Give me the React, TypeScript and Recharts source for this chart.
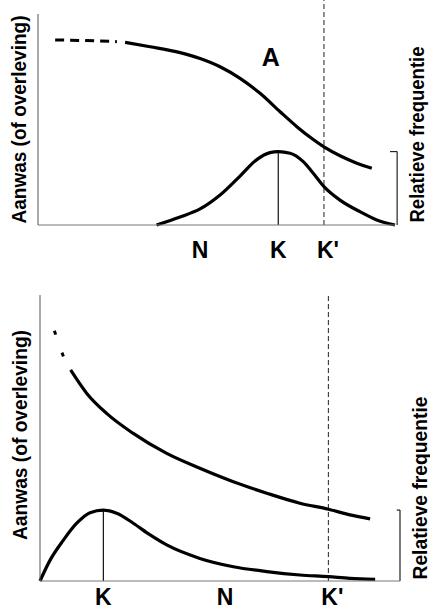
import React from 'react';
import { LineChart, Line, XAxis, YAxis, ReferenceLine, ReferenceDot } from 'recharts';

// bovenste figuur
const topDashX = [4.8, 13.5, 22.1];
const topDashY = [87.7, 87.4, 86.9];
const topAanwasX = [24.4, 31.4, 39.8, 45.4, 51.0, 56.6, 62.2, 67.8, 72.5, 77.1, 80.1, 84.6, 89.3, 93.5];
const topAanwasY = [86.6, 84.5, 81.7, 78.9, 75.0, 69.5, 62.4, 53.7, 46.6, 40.5, 37.0, 32.8, 29.3, 26.9];
const topFreqX = [33.2, 39.8, 45.4, 51.0, 56.6, 61.3, 65.0, 67.3, 70.6, 74.3, 77.1, 80.1, 84.6, 90.2, 94.9, 100];
const topFreqY = [0, 3.8, 7.6, 14.2, 23.2, 31.0, 34.3, 34.8, 34.0, 30.0, 24.5, 18.2, 11.8, 6.3, 2.4, 0];
const topTicks = [45.4, 67.3, 80.1];
const topTickLabels = ['N', 'K', "K'"];

// onderste figuur
const botDotX = [4.0, 6.3, 8.5];
const botDotY = [87.5, 79.2, 73.8];
const botAanwasX = [8.5, 13.0, 18.5, 25.9, 35.2, 44.4, 53.7, 63.0, 72.2, 80.1, 86.1, 91.7];
const botAanwasY = [73.8, 65.6, 58.6, 51.6, 44.6, 39.4, 34.7, 30.7, 27.2, 25.1, 23.1, 21.7];
const botFreqX = [0, 2.8, 6.5, 10.2, 13.9, 17.6, 21.3, 25.9, 30.6, 35.2, 44.4, 53.7, 63.0, 72.2, 80.1, 86.1, 93.1];
const botFreqY = [0, 7.3, 14.3, 20.2, 23.9, 24.8, 23.7, 20.2, 16.1, 12.6, 7.9, 5.0, 3.3, 2.1, 1.5, 0.9, 0.6];
const botTicks = [17.6, 51.4, 80.1];
const botTickLabels = ['K', 'N', "K'"];

const leftTitle = 'Aanwas (of overleving)';
const rightTitle = 'Relatieve frequentie';

const zip = (xs: number[], ys: number[]) => xs.map((x, i) => ({ x, y: ys[i] }));

const FONT = '"Liberation Sans", Arial, sans-serif';
const titleProps = { fontSize: 20, fontWeight: 700, fill: '#000', fontFamily: FONT, lengthAdjust: 'spacingAndGlyphs' };

// tick met de K gecentreerd, accent steekt rechts uit
const makeTick = (ticks: number[], names: string[]) => (props: any) => {
  const name = names[ticks.indexOf(props.payload.value)] ?? '';
  const shift = name.endsWith("'") ? 4 : 0;
  return (
    <text x={props.x + shift} y={props.y} dy="0.71em" textAnchor="middle"
      fontSize={23} fontWeight={700} fill="#000" fontFamily={FONT}>
      {name}
    </text>
  );
};

const App: React.FC = () => {
  const topPeak = Math.max(...topFreqY);
  const topPeakX = topFreqX[topFreqY.indexOf(topPeak)];
  const botPeak = Math.max(...botFreqY);
  const botPeakX = botFreqX[botFreqY.indexOf(botPeak)];

  return (
    <div style={{ position: 'absolute', left: 0, top: 0, width: 430, height: 612, background: '#fff' }}>
      <LineChart width={430} height={290} margin={{ top: 14, right: 0, bottom: 0, left: 0 }}>
        <XAxis
          type="number"
          dataKey="x"
          domain={[0, 100]}
          ticks={topTicks}
          tick={makeTick(topTicks, topTickLabels)}
          tickLine={false}
          tickSize={0}
          tickMargin={17}
          height={65}
          axisLine={{ stroke: '#777', strokeWidth: 1 }}
          interval={0}
        />
        <YAxis
          yAxisId="l"
          type="number"
          domain={[0, 100]}
          width={38}
          tick={false}
          tickLine={false}
          axisLine={{ stroke: '#555', strokeWidth: 1 }}
          label={{ value: leftTitle, angle: -90, position: 'center', textLength: 208, ...titleProps }}
        />
        <YAxis
          yAxisId="r"
          orientation="right"
          type="number"
          domain={[0, 100]}
          width={35}
          tick={false}
          tickLine={false}
          axisLine={false}
          label={{ value: rightTitle, angle: -90, position: 'center', dx: 4, dy: 15, textLength: 176, ...titleProps }}
        />
        <ReferenceLine yAxisId="l" segment={[{ x: 80.1, y: 0 }, { x: 80.1, y: 106.6 }]} stroke="#222" strokeWidth={1} strokeDasharray="5 3" ifOverflow="visible" />
        <ReferenceLine yAxisId="l" segment={[{ x: topPeakX, y: 0 }, { x: topPeakX, y: topPeak }]} stroke="#111" strokeWidth={1.2} ifOverflow="visible" />
        <ReferenceLine yAxisId="l" segment={[{ x: 100.6, y: 0 }, { x: 100.6, y: topPeak }]} stroke="#222" strokeWidth={1.2} ifOverflow="visible" />
        <ReferenceLine yAxisId="l" segment={[{ x: 98.6, y: topPeak }, { x: 100.6, y: topPeak }]} stroke="#222" strokeWidth={1.2} ifOverflow="visible" />
        <ReferenceDot yAxisId="l" x={65.2} y={79.4} r={0} fill="none" stroke="none" ifOverflow="visible"
          label={{ value: 'A', position: 'center', fontSize: 25, fontWeight: 700, fill: '#000', fontFamily: FONT }} />
        <Line yAxisId="l" data={zip(topDashX, topDashY)} dataKey="y" type="monotone" stroke="#000" strokeWidth={3} strokeDasharray="9 6" dot={false} isAnimationActive={false} />
        <Line yAxisId="l" data={zip(topAanwasX, topAanwasY)} dataKey="y" type="monotone" stroke="#000" strokeWidth={3.2} dot={false} isAnimationActive={false} />
        <Line yAxisId="l" data={zip(topFreqX, topFreqY)} dataKey="y" type="monotone" stroke="#000" strokeWidth={3.2} dot={false} isAnimationActive={false} />
      </LineChart>

      <LineChart width={430} height={322} margin={{ top: 5, right: 0, bottom: 0, left: 0 }}>
        <XAxis
          type="number"
          dataKey="x"
          domain={[0, 100]}
          ticks={botTicks}
          tick={makeTick(botTicks, botTickLabels)}
          tickLine={false}
          tickSize={0}
          tickMargin={8}
          height={31}
          axisLine={{ stroke: '#777', strokeWidth: 1 }}
          interval={0}
        />
        <YAxis
          yAxisId="l"
          type="number"
          domain={[0, 100]}
          width={40}
          tick={false}
          tickLine={false}
          axisLine={{ stroke: '#555', strokeWidth: 1 }}
          label={{ value: leftTitle, angle: -90, position: 'center', dy: -3, textLength: 210, ...titleProps }}
        />
        <YAxis
          yAxisId="r"
          orientation="right"
          type="number"
          domain={[0, 100]}
          width={30}
          tick={false}
          tickLine={false}
          axisLine={false}
          label={{ value: rightTitle, angle: -90, position: 'center', dx: 5, dy: 50, textLength: 183, ...titleProps }}
        />
        <ReferenceLine yAxisId="l" segment={[{ x: 80.1, y: 0 }, { x: 80.1, y: 100 }]} stroke="#222" strokeWidth={1} strokeDasharray="5 3" ifOverflow="visible" />
        <ReferenceLine yAxisId="l" segment={[{ x: botPeakX, y: 0 }, { x: botPeakX, y: botPeak }]} stroke="#111" strokeWidth={1.2} ifOverflow="visible" />
        <ReferenceLine yAxisId="l" segment={[{ x: 100, y: 0 }, { x: 100, y: botPeak }]} stroke="#222" strokeWidth={1.2} ifOverflow="visible" />
        <ReferenceLine yAxisId="l" segment={[{ x: 99.1, y: botPeak }, { x: 100, y: botPeak }]} stroke="#222" strokeWidth={1.2} ifOverflow="visible" />
        <Line yAxisId="l" data={zip(botDotX, botDotY)} dataKey="y" type="monotone" stroke="#000" strokeWidth={3} strokeDasharray="4 19" dot={false} isAnimationActive={false} />
        <Line yAxisId="l" data={zip(botAanwasX, botAanwasY)} dataKey="y" type="monotone" stroke="#000" strokeWidth={3.2} dot={false} isAnimationActive={false} />
        <Line yAxisId="l" data={zip(botFreqX, botFreqY)} dataKey="y" type="monotone" stroke="#000" strokeWidth={3.2} dot={false} isAnimationActive={false} />
      </LineChart>
    </div>
  );
};

export default App;
